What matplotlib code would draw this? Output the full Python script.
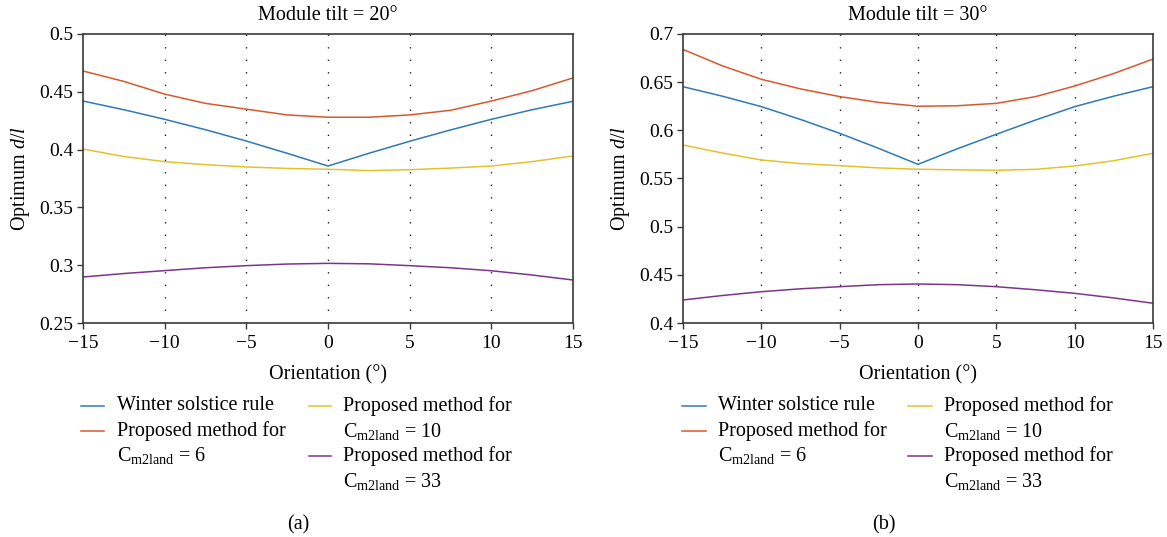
import matplotlib
matplotlib.use("Agg")
import matplotlib.pyplot as plt
from matplotlib.lines import Line2D

plt.rcParams['font.family'] = ['Liberation Serif', 'DejaVu Serif']
plt.rcParams['mathtext.fontset'] = 'custom'
plt.rcParams['mathtext.rm'] = 'Liberation Serif'
plt.rcParams['mathtext.it'] = 'Liberation Serif:italic'
plt.rcParams['axes.unicode_minus'] = True

# ---------------- data ----------------
orientation = [-15, -12.5, -10, -7.5, -5, -2.5, 0, 2.5, 5, 7.5, 10, 12.5, 15]

# Module tilt = 20 deg
winter_20 = [0.442, 0.4345, 0.4262, 0.4172, 0.4074, 0.3968, 0.3858,
             0.3968, 0.4072, 0.4170, 0.4262, 0.4345, 0.4418]
c6_20 = [0.468, 0.459, 0.448, 0.440, 0.435, 0.430, 0.428,
         0.428, 0.430, 0.434, 0.442, 0.451, 0.462]
c10_20 = [0.4005, 0.394, 0.3896, 0.387, 0.385, 0.3837, 0.383,
          0.3818, 0.3826, 0.384, 0.3858, 0.3896, 0.3945]
c33_20 = [0.2898, 0.2928, 0.2953, 0.2978, 0.2996, 0.3010, 0.3016,
          0.3012, 0.2996, 0.2978, 0.2952, 0.2915, 0.2872]

# Module tilt = 30 deg
winter_30 = [0.6453, 0.6355, 0.6246, 0.6113, 0.5969, 0.5812, 0.5647,
             0.5808, 0.5959, 0.6107, 0.6246, 0.6355, 0.6453]
c6_30 = [0.684, 0.667, 0.653, 0.643, 0.635, 0.629, 0.625,
         0.6255, 0.628, 0.635, 0.646, 0.659, 0.674]
c10_30 = [0.5848, 0.5765, 0.5692, 0.5655, 0.5633, 0.561, 0.5596,
          0.559, 0.5585, 0.5595, 0.563, 0.5685, 0.5762]
c33_30 = [0.4239, 0.4285, 0.4325, 0.4355, 0.4377, 0.4398, 0.4405,
          0.4398, 0.4377, 0.4345, 0.4308, 0.426, 0.4205]

x_ticks = [-15, -10, -5, 0, 5, 10, 15]
y_ticks_20 = [0.25, 0.3, 0.35, 0.4, 0.45, 0.5]
y_ticks_30 = [0.4, 0.45, 0.5, 0.55, 0.6, 0.65, 0.7]
y_ticklabels_20 = ['0.25', '0.3', '0.35', '0.4', '0.45', '0.5']
y_ticklabels_30 = ['0.4', '0.45', '0.5', '0.55', '0.6', '0.65', '0.7']

titles = ['Module tilt = 20°', 'Module tilt = 30°']
panel_tags = ['(a)', '(b)']
legend_labels = ['Winter solstice rule',
                 'Proposed method for\n$\\mathrm{C}_{\\mathrm{m2land}}$ = 6',
                 'Proposed method for\n$\\mathrm{C}_{\\mathrm{m2land}}$ = 10',
                 'Proposed method for\n$\\mathrm{C}_{\\mathrm{m2land}}$ = 33']
colors = ['#2E7AB8', '#D8592C', '#E5C22C', '#7C3689']

# ---------------- figure ----------------
W, H = 1167, 537
fig = plt.figure(figsize=(W / 100, H / 100), dpi=100)

def fx(px):
    return px / W

def fy(py):
    return 1 - py / H

FS = 14.5
TFS = 14
panels = [
    dict(left=83, right=573, series=[winter_20, c6_20, c10_20, c33_20],
         yticks=y_ticks_20, ylabels=y_ticklabels_20, ylim=(0.25, 0.5),
         leg_h1=(81, 104), leg_t1=117, leg_h2=(309, 331), leg_t2=343, tag_x=298),
    dict(left=683, right=1153, series=[winter_30, c6_30, c10_30, c33_30],
         yticks=y_ticks_30, ylabels=y_ticklabels_30, ylim=(0.4, 0.7),
         leg_h1=(682, 706), leg_t1=718, leg_h2=(908, 932), leg_t2=944, tag_x=884),
]
top, bottom = 34, 323

for i, p in enumerate(panels):
    ax = fig.add_axes([fx(p['left']), fy(bottom), fx(p['right'] - p['left']),
                       (bottom - top) / H])
    for s, c in zip(p['series'], colors):
        ax.plot(orientation, s, color=c, lw=1.1)
    ax.set_xlim(-15, 15)
    ax.set_ylim(*p['ylim'])
    ax.set_xticks(x_ticks)
    ax.set_yticks(p['yticks'])
    ax.set_yticklabels(p['ylabels'])
    for xv in x_ticks[1:-1]:
        ax.axvline(xv, color='#222222', lw=1.0, ls=(0, (1, 8)), zorder=0)
    for sp in ax.spines.values():
        sp.set_color('#3a3a3a')
        sp.set_linewidth(1.2)
    ax.tick_params(direction='out', length=4, width=1.0, color='#3a3a3a',
                   labelsize=TFS, top=False, right=False)
    ax.tick_params(axis='x', pad=5)
    ax.tick_params(axis='y', pad=3)
    cx = (p['left'] + p['right']) / 2
    fig.text(fx(cx), fy(15), titles[i], ha='center', va='center', fontsize=FS)
    fig.text(fx(cx), fy(375), 'Orientation (°)', ha='center', va='center', fontsize=FS)
    fig.text(fx(p['left'] - 62), fy((top + bottom) / 2), 'Optimum $d/l$',
             rotation=90, ha='center', va='center', fontsize=FS)
    # legend (two columns, handle aligned with first text line)
    rows = [406, 431, 456, 481]
    entries = [(0, p['leg_h1'], p['leg_t1'], rows[0]),
               (1, p['leg_h1'], p['leg_t1'], rows[1]),
               (2, p['leg_h2'], p['leg_t2'], rows[0]),
               (3, p['leg_h2'], p['leg_t2'], rows[2])]
    for k, hx, tx, ry in entries:
        fig.add_artist(Line2D([fx(hx[0]), fx(hx[1])], [fy(ry), fy(ry)],
                              color=colors[k], lw=1.1, transform=fig.transFigure))
        lines = legend_labels[k].split('\n')
        for j, t in enumerate(lines):
            fig.text(fx(tx), fy(ry + 25 * j), t, ha='left', va='center', fontsize=FS)
    fig.text(fx(p['tag_x']), fy(525), panel_tags[i], ha='center', va='center', fontsize=FS)

fig.savefig('out.png', dpi=100)
